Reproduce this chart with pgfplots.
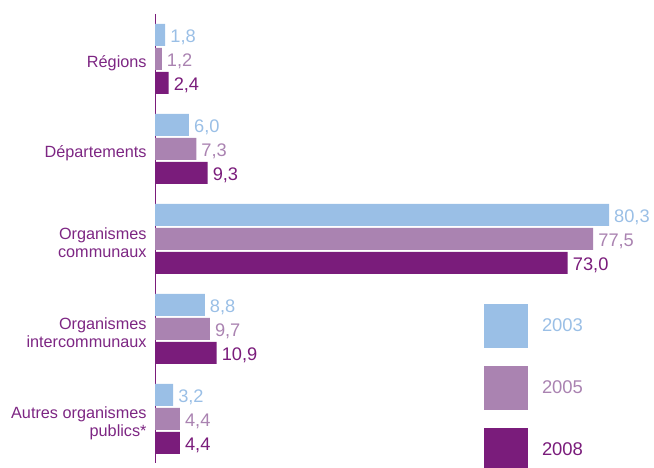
\documentclass[border=0pt]{standalone}
\usepackage{pgfplots}
\pgfplotsset{compat=1.18}
\usepackage{fontspec}
\setmainfont{Liberation Sans}
\definecolor{cA}{HTML}{9ABFE6}
\definecolor{cB}{HTML}{AA83B1}
\definecolor{cC}{HTML}{7A1C7B}
\definecolor{ctext}{HTML}{7D2683}
\pgfplotsset{sqlegend/.style={legend image code/.code={\fill[##1,draw=none] (0bp,-22bp) rectangle (44bp,22bp);}}}
\begin{document}
\begin{tikzpicture}[x=1bp,y=1bp]
\useasboundingbox (0,0) rectangle (654,468);
\begin{axis}[
  at={(155bp,5bp)}, anchor=south west,
  scale only axis, width=499bp, height=449bp,
  xmin=0, xmax=88.26, ymin=-0.5, ymax=4.489, y dir=reverse,
  axis x line=none, axis y line*=left,
  y axis line style={draw=cC, line width=0.9bp, -},
  ytick={0,1,2,3,4},
  yticklabels={R\'egions, D\'epartements, {Organismes\\communaux}, {Organismes\\intercommunaux}, {Autres organismes\\publics*}},
  ytick style={draw=none},
  yticklabel style={font=\fontsize{16.3}{17.8}\selectfont, text=ctext, align=right, inner sep=0pt, xshift=-4bp, yshift=-4bp},
  xbar, bar width=22bp, bar shift=0pt,
  clip=false,
  nodes near coords,
  nodes near coords style={font=\fontsize{18.3}{20}\selectfont, inner sep=0pt, xshift=5bp, yshift=-2.5bp, anchor=west},
  sqlegend,
  legend style={at={(0.6593,0.3541)}, anchor=north west, draw=none, fill=none, inner sep=0pt, outer sep=0pt, row sep=18bp, column sep=14bp, nodes={inner sep=0pt, font=\fontsize{18.5}{20}\selectfont}},
  legend cell align=left,
  /pgf/number format/.cd, fixed, fixed zerofill, precision=1, use comma, assume math mode=true,
]
\addplot[xbar, bar shift=0pt, fill=cA, draw=none, every node near coord/.append style={text=cA}] coordinates {(1.8,-0.2667) (6.0,0.7333) (80.3,1.7333) (8.8,2.7333) (3.2,3.7333)};
\addlegendentry{\textcolor{cA}{2003}}
\addplot[xbar, bar shift=0pt, fill=cB, draw=none, every node near coord/.append style={text=cB}] coordinates {(1.2,0) (7.3,1) (77.5,2) (9.7,3) (4.4,4)};
\addlegendentry{\textcolor{cB}{2005}}
\addplot[xbar, bar shift=0pt, fill=cC, draw=none, every node near coord/.append style={text=cC}] coordinates {(2.4,0.2667) (9.3,1.2667) (73.0,2.2667) (10.9,3.2667) (4.4,4.2667)};
\addlegendentry{\textcolor{cC}{2008}}
\end{axis}
\end{tikzpicture}
\end{document}
